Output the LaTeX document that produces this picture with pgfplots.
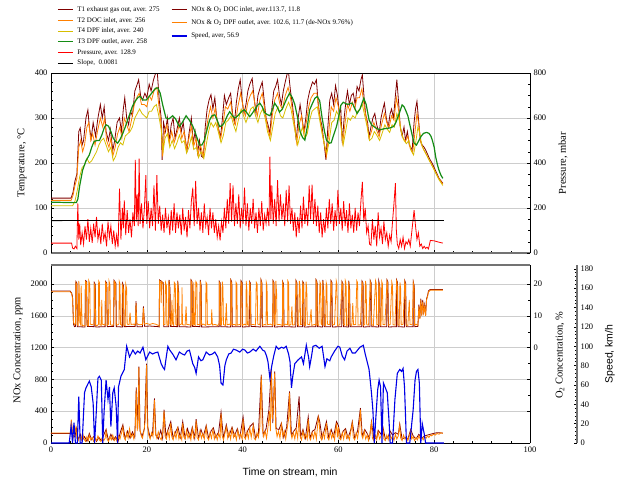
\documentclass[border=0pt]{standalone}
\usepackage{pgfplots}
\pgfplotsset{compat=1.18}
\usepackage{fontspec}
\setmainfont{Liberation Serif}
\newfontfamily\arialfont{Liberation Sans}
\definecolor{tone}{RGB}{128,0,0}
\definecolor{ttwo}{RGB}{255,128,0}
\definecolor{tfour}{RGB}{215,190,0}
\definecolor{tthree}{RGB}{20,140,20}
\definecolor{pres}{RGB}{255,0,0}
\definecolor{spd}{RGB}{0,0,230}
\definecolor{gridc}{RGB}{205,205,205}
\definecolor{axgray}{RGB}{115,115,115}
\pgfplotsset{
  base/.style={scale only axis, width=479bp, xmin=0, xmax=100,
    tick align=inside, /pgf/number format/assume math mode=true,
    /pgf/number format/1000 sep={},
    tick label style={font=\fontsize{8.5}{9}\selectfont},
    label style={font=\fontsize{10.5}{12}\selectfont},
    major tick length=3.5bp, minor tick length=2bp,
    every tick/.style={black, line width=0.5bp},
    legend image code/.code={\draw[##1] (0bp,0bp) -- (15bp,0bp);},
  },
}
\begin{document}
\begin{tikzpicture}
\useasboundingbox (0,0) rectangle (633bp,-482bp);
% ---------------- TOP: temperature ----------------
\begin{axis}[base, at={(51bp,-253bp)}, anchor=south west, height=180bp,
  ymin=0, ymax=400, ytick={0,100,...,400}, minor y tick num=4,
  xtick={0,20,...,100}, minor x tick num=4, xticklabels={},
  axis x line*=bottom, axis y line*=left,
  x axis line style={axgray, line width=1.6bp},
  y axis line style={black, line width=0.8bp},
  grid=major, major grid style={gridc, line width=0.4bp},
  ylabel={Temperature, °C},
  ylabel style={at={(axis description cs:-0.0605,0.5)}, anchor=center},
]
\addplot[tone, line width=0.8bp] coordinates {(0,122) (4.2,122) (4.6,135) (5.0,160) (5.4,175) (5.8,270) (6.1,278) (6.5,240) (6.8,250) (7.3,300) (7.7,318) (8.0,280) (8.4,255) (8.8,290) (9.3,260) (9.8,300) (10.3,330) (10.7,300) (11.1,325) (11.5,270) (12.0,250) (12.4,275) (12.9,228) (13.3,250) (13.8,290) (14.3,300) (14.7,270) (15.1,320) (15.4,345) (15.8,300) (16.2,285) (16.6,315) (17.0,305) (17.5,360) (17.9,372) (18.3,385) (18.7,350) (19.1,340) (19.6,355) (20.0,345) (20.5,375) (20.9,360) (21.4,385) (21.8,398) (22.2,400) (22.6,340) (23.0,300) (23.2,207) (23.5,290) (23.9,270) (24.3,300) (24.7,250) (25.1,285) (25.5,300) (25.9,255) (26.3,275) (26.8,300) (27.2,270) (27.6,290) (28.0,255) (28.4,229) (28.8,265) (29.3,300) (29.7,245) (30.1,270) (30.6,222) (31.0,250) (31.4,215) (31.8,212) (32.2,280) (32.6,320) (33.0,340) (33.4,352) (33.8,320) (34.2,345) (34.6,300) (35.0,275) (35.4,258) (35.8,300) (36.2,350) (36.6,330) (37.1,345) (37.5,355) (37.9,310) (38.3,290) (38.7,335) (39.1,365) (39.5,385) (39.9,340) (40.3,310) (40.7,330) (41.1,360) (41.5,375) (42.0,388) (42.4,345) (42.8,310) (43.2,350) (43.6,365) (44.1,380) (44.5,340) (44.9,300) (45.3,285) (45.7,266) (46.1,320) (46.5,360) (46.9,370) (47.3,385) (47.7,350) (48.1,330) (48.5,360) (48.9,380) (49.3,398) (49.6,400) (50.0,360) (50.4,330) (50.8,290) (51.2,250) (51.6,300) (52.0,330) (52.4,300) (52.8,270) (53.2,300) (53.6,340) (54.0,360) (54.6,380) (55.0,375) (55.4,385) (55.8,330) (56.2,300) (56.6,280) (57.0,245) (57.4,207) (57.8,280) (58.2,340) (58.6,355) (59.0,330) (59.4,372) (59.8,350) (60.2,310) (60.5,320) (60.8,244) (61.2,300) (61.6,340) (61.9,360) (62.3,330) (62.7,350) (63.1,355) (63.5,330) (63.9,370) (64.3,360) (64.7,385) (65.0,396) (65.4,340) (65.7,307) (66.1,290) (66.4,259) (66.8,280) (67.2,300) (67.6,310) (68.0,285) (68.5,266) (68.9,300) (69.3,320) (69.6,333) (70.0,300) (70.4,280) (70.8,310) (71.1,320) (71.5,300) (71.9,350) (72.2,385) (72.6,330) (72.9,281) (73.3,260) (73.7,280) (74.0,250) (74.4,270) (74.8,240) (75.4,229) (75.8,290) (76.1,320) (76.4,337) (76.7,300) (77.1,250) (77.5,240) (77.9,235) (78.2,229) (78.6,220) (79.0,210) (79.6,199) (80.2,185) (81.0,166) (81.8,155)};
\addplot[ttwo, line width=0.8bp] coordinates {(0,117) (4.2,117) (4.6,128) (5.0,150) (5.4,165) (5.8,235) (6.2,250) (6.6,225) (7.0,240) (7.5,280) (7.9,290) (8.3,250) (8.7,265) (9.2,240) (9.7,270) (10.3,300) (10.8,280) (11.2,300) (11.6,250) (12.1,235) (12.5,255) (12.9,215) (13.4,235) (13.9,265) (14.4,280) (14.8,255) (15.3,300) (15.8,285) (16.3,270) (16.8,295) (17.4,330) (17.9,345) (18.4,355) (18.9,330) (19.5,330) (20.0,325) (20.5,350) (21.0,340) (21.5,360) (22.1,368) (22.6,320) (23.0,285) (23.3,215) (23.7,270) (24.2,285) (24.7,245) (25.2,270) (25.7,245) (26.2,262) (26.8,285) (27.3,255) (27.8,270) (28.3,230) (28.8,255) (29.3,282) (29.8,238) (30.3,255) (30.7,218) (31.2,240) (31.8,215) (32.3,265) (32.8,300) (33.3,325) (33.8,300) (34.3,322) (34.8,285) (35.4,252) (35.9,285) (36.4,325) (36.9,320) (37.5,335) (38.0,300) (38.5,285) (39.0,325) (39.6,355) (40.1,325) (40.6,305) (41.1,335) (41.6,350) (42.1,360) (42.6,330) (43.1,305) (43.6,340) (44.1,355) (44.6,320) (45.1,285) (45.7,258) (46.2,305) (46.7,340) (47.3,355) (47.8,330) (48.3,320) (48.9,350) (49.5,368) (50.0,345) (50.5,310) (51.0,275) (51.3,245) (51.8,285) (52.3,305) (52.8,265) (53.3,290) (53.8,325) (54.3,345) (54.9,355) (55.5,355) (56.0,310) (56.5,275) (57.0,245) (57.5,215) (58.0,270) (58.5,325) (59.0,315) (59.5,345) (60.0,325) (60.4,300) (60.9,245) (61.4,290) (61.9,330) (62.4,315) (62.9,335) (63.4,320) (63.9,345) (64.4,345) (64.9,365) (65.4,325) (65.9,295) (66.4,255) (66.9,270) (67.4,290) (67.9,275) (68.5,258) (69.0,285) (69.6,310) (70.1,290) (70.6,280) (71.1,305) (71.6,295) (72.1,345) (72.6,315) (73.0,275) (73.5,255) (74.0,248) (74.5,260) (75.0,232) (75.5,222) (76.0,270) (76.4,310) (76.8,285) (77.2,245) (77.7,232) (78.2,222) (78.7,212) (79.3,200) (80.0,185) (80.8,168) (81.8,153)};
\addplot[tfour, line width=0.8bp] coordinates {(0,105) (4.5,105) (5.0,115) (5.5,140) (6.0,170) (6.5,190) (7.0,195) (7.5,210) (8.0,200) (8.5,205) (9.0,215) (9.5,225) (10.0,240) (10.5,250) (11.0,255) (11.5,240) (12.0,225) (12.5,235) (13.0,205) (13.5,215) (14.0,235) (14.5,245) (15.0,240) (15.5,260) (16.0,265) (16.5,270) (17.0,280) (17.5,300) (18.0,310) (18.5,320) (19.0,310) (19.5,305) (20.0,300) (20.5,315) (21.0,315) (21.5,325) (22.0,330) (22.5,305) (23.0,275) (23.4,225) (23.8,255) (24.3,265) (24.8,235) (25.3,250) (25.8,232) (26.3,245) (26.8,262) (27.3,245) (27.8,250) (28.3,222) (28.8,235) (29.3,258) (29.8,230) (30.4,235) (30.8,212) (31.3,225) (31.9,210) (32.4,240) (32.9,270) (33.4,290) (33.9,280) (34.4,290) (34.9,270) (35.5,245) (36.0,262) (36.5,290) (37.0,295) (37.6,305) (38.1,285) (38.6,270) (39.1,295) (39.7,320) (40.2,305) (40.7,290) (41.2,305) (41.7,320) (42.2,325) (42.7,305) (43.2,290) (43.7,310) (44.2,320) (44.7,300) (45.2,270) (45.8,250) (46.3,280) (46.8,310) (47.4,325) (47.9,305) (48.4,300) (49.0,320) (49.6,335) (50.1,320) (50.6,290) (51.1,262) (51.5,240) (52.0,262) (52.5,280) (53.0,255) (53.5,265) (54.0,295) (54.5,315) (55.0,320) (55.6,325) (56.1,295) (56.6,265) (57.1,240) (57.6,222) (58.1,250) (58.6,290) (59.1,295) (59.6,315) (60.1,305) (60.5,285) (61.0,240) (61.5,270) (62.0,300) (62.5,295) (63.0,305) (63.5,300) (64.0,315) (64.5,320) (65.0,330) (65.5,305) (66.0,280) (66.5,250) (67.0,255) (67.5,270) (68.0,262) (68.6,250) (69.1,265) (69.7,285) (70.2,275) (70.7,268) (71.2,285) (71.7,280) (72.2,310) (72.7,295) (73.2,265) (73.7,250) (74.2,243) (74.7,250) (75.2,228) (75.7,218) (76.2,250) (76.6,280) (77.0,265) (77.4,240) (77.9,228) (78.4,218) (79.0,205) (79.6,193) (80.3,178) (81.0,163) (81.8,150)};
\addplot[tthree, line width=1.2bp] coordinates {(0,113) (4.5,112) (5.3,112) (5.6,120) (6.0,150) (6.6,184) (7.3,205) (8.0,218) (8.5,235) (9.0,248) (9.6,250) (10.1,250) (10.6,262) (11.1,278) (11.5,285) (12.0,282) (12.5,270) (13.0,255) (13.5,248) (13.9,244) (14.4,252) (15.0,266) (15.5,280) (16.0,296) (16.5,310) (17.0,326) (17.6,338) (18.2,346) (18.6,348) (19.2,340) (19.9,340) (20.5,348) (21.3,359) (21.8,366) (22.3,367) (22.8,355) (23.3,330) (24.0,300) (24.6,298) (25.4,305) (26.0,298) (26.8,281) (27.4,290) (28.2,305) (28.9,295) (29.6,282) (30.3,262) (31.0,240) (31.5,240) (32.0,250) (32.6,275) (33.1,295) (33.6,305) (34.2,307) (34.7,295) (35.2,281) (35.7,283) (36.2,290) (36.8,305) (37.3,314) (37.9,305) (38.4,300) (39.0,305) (39.4,310) (40.0,316) (40.4,318) (41.0,310) (41.5,303) (42.0,310) (42.5,318) (43.1,328) (43.6,333) (44.1,325) (44.6,312) (45.1,308) (45.7,305) (46.2,318) (46.7,333) (47.2,325) (47.7,313) (48.3,320) (48.8,333) (49.3,345) (49.8,355) (50.4,345) (50.9,330) (51.5,300) (52.0,270) (52.5,257) (53.0,251) (53.5,280) (54.0,318) (54.6,333) (55.1,344) (55.6,348) (56.1,338) (56.6,300) (57.1,270) (57.5,251) (58.1,244) (58.5,245) (59.0,262) (59.6,281) (60.0,300) (60.5,328) (61.0,335) (61.9,330) (62.4,332) (62.9,333) (63.4,322) (63.9,310) (64.5,320) (65.0,335) (65.3,344) (65.8,330) (66.4,296) (66.9,285) (67.4,281) (68.1,276) (68.8,274) (69.5,276) (70.2,277) (70.8,278) (71.5,281) (72.0,290) (72.6,307) (73.3,329) (73.7,325) (74.0,318) (74.5,305) (75.0,281) (75.4,262) (75.8,244) (76.3,240) (76.8,250) (77.3,260) (77.8,266) (78.4,268) (78.9,266) (79.3,260) (79.6,251) (80.0,235) (80.3,214) (80.7,195) (81.0,184) (81.4,173) (81.8,166)};
\end{axis}
% ---------------- TOP: pressure ----------------
\begin{axis}[base, at={(51bp,-253bp)}, anchor=south west, height=180bp,
  ymin=0, ymax=800, ytick={0,200,...,800}, minor y tick num=3,
  axis x line*=top, axis y line*=right, xtick=\empty,
  axis line style={black, line width=0.8bp},
  ylabel={Pressure, mbar},
  ylabel style={at={(axis description cs:1.0689,0.5)}, anchor=center},
  legend style={at={(axis description cs:0.0125,1.3694)}, anchor=north west,
    draw=none, fill=none, inner sep=0pt, row sep=4.1bp, column sep=4bp,
    font=\fontsize{7}{8}\selectfont,
    nodes={inner sep=0pt, text height=5bp, text depth=1.5bp}},
  legend cell align=left,
]
\addlegendimage{tone, line width=1bp}\addlegendentry{T1 exhaust gas out, aver. 275}
\addlegendimage{ttwo, line width=1bp}\addlegendentry{T2 DOC inlet, aver. 256}
\addlegendimage{tfour, line width=1bp}\addlegendentry{T4 DPF inlet, aver. 240}
\addlegendimage{tthree, line width=1.3bp}\addlegendentry{T3 DPF outlet, aver. 258}
\addplot[pres, line width=0.8bp] coordinates {(0,44) (4.3,44) (4.5,22) (4.8,18) (5.1,30) (5.4,20) (5.6,220) (5.8,60) (6.0,130) (6.2,35) (6.5,90) (6.8,40) (7.1,120) (7.4,60) (7.7,150) (8.0,50) (8.3,110) (8.6,45) (8.9,130) (9.2,70) (9.5,160) (9.8,60) (10.1,100) (10.4,40) (10.7,130) (11.0,60) (11.3,90) (11.6,30) (11.9,140) (12.2,70) (12.5,120) (12.8,40) (13.1,100) (13.4,30) (13.7,80) (14.0,25) (14.3,286) (14.6,60) (14.9,200) (15.1,110) (15.3,234) (15.6,80) (15.9,190) (16.2,90) (16.5,150) (16.8,70) (17.1,180) (17.4,120) (17.6,414) (17.8,140) (18.0,260) (18.2,120) (18.4,420) (18.6,130) (18.9,220) (19.2,110) (19.5,200) (19.8,346) (20.0,130) (20.3,230) (20.6,110) (20.9,200) (21.2,120) (21.5,300) (21.8,100) (22.1,346) (22.4,130) (22.7,210) (23.0,100) (23.3,170) (23.6,90) (23.9,200) (24.2,110) (24.5,160) (24.8,80) (25.1,190) (25.4,100) (25.7,220) (26.0,90) (26.3,180) (26.6,110) (26.9,170) (27.2,80) (27.5,200) (27.8,100) (28.1,160) (28.4,70) (28.7,190) (29.0,110) (29.3,230) (29.6,290) (29.9,120) (30.2,320) (30.5,130) (30.8,200) (31.1,100) (31.4,180) (31.7,90) (32.0,220) (32.3,120) (32.6,160) (32.9,80) (33.2,200) (33.5,110) (33.8,180) (34.1,90) (34.4,150) (34.7,70) (35.0,120) (35.3,56) (35.6,140) (35.9,90) (36.2,200) (36.5,110) (36.8,240) (37.1,130) (37.4,310) (37.7,140) (38.0,300) (38.3,120) (38.6,220) (38.9,130) (39.2,260) (39.5,110) (39.8,200) (40.1,130) (40.4,290) (40.7,120) (41.0,220) (41.3,100) (41.6,200) (41.9,130) (42.2,240) (42.5,110) (42.8,180) (43.1,90) (43.4,200) (43.7,120) (44.0,230) (44.3,100) (44.6,170) (44.9,130) (45.2,200) (45.5,120) (45.7,428) (45.9,150) (46.1,300) (46.4,130) (46.7,240) (47.0,120) (47.3,324) (47.6,140) (47.9,260) (48.2,150) (48.5,220) (48.8,120) (49.1,280) (49.4,140) (49.7,300) (50.0,130) (50.3,200) (50.6,100) (50.9,180) (51.2,70) (51.5,160) (51.8,90) (52.1,210) (52.4,110) (52.7,250) (53.0,130) (53.3,200) (53.6,120) (53.9,300) (54.2,150) (54.5,304) (54.8,130) (55.1,240) (55.4,120) (55.7,210) (56.0,90) (56.3,180) (56.6,70) (56.9,150) (57.2,90) (57.5,200) (57.8,110) (58.1,240) (58.4,130) (58.7,220) (59.0,100) (59.3,190) (59.6,120) (59.9,280) (60.2,130) (60.5,200) (60.8,100) (61.1,230) (61.4,120) (61.7,190) (62.0,90) (62.3,220) (62.6,110) (62.9,170) (63.2,90) (63.5,200) (63.8,100) (64.1,180) (64.4,120) (64.7,230) (65.0,316) (65.3,140) (65.6,200) (65.9,90) (66.2,120) (66.5,40) (66.8,34) (67.1,150) (67.4,60) (67.7,120) (68.0,30) (68.3,180) (68.6,70) (68.9,110) (69.2,40) (69.5,140) (69.8,60) (70.1,90) (70.4,30) (70.7,80) (71.0,50) (71.3,140) (71.6,220) (71.9,310) (72.1,100) (72.3,40) (72.6,20) (72.9,60) (73.2,30) (73.5,70) (73.8,20) (74.1,50) (74.4,40) (74.7,60) (75.0,30) (75.4,110) (75.8,190) (76.1,120) (76.4,60) (76.7,90) (77.0,30) (77.3,40) (77.6,20) (77.9,30) (78.2,20) (78.5,26) (78.8,18) (79.2,56) (80.0,54) (81.0,48) (81.8,44)};
\addlegendentry{Pressure, aver. 128.9}
\addplot[black, line width=0.8bp] coordinates {(0,144) (82,144.7)};
\addlegendentry{Slope,\ \ 0.0081}
\end{axis}
% ---------------- BOTTOM: NOx ----------------
\begin{axis}[base, at={(51bp,-443bp)}, anchor=south west, height=178bp,
  ymin=0, ymax=2240, ytick={0,400,...,2000}, minor y tick num=3,
  xtick={0,20,...,100}, minor x tick num=4,
  axis x line*=bottom, axis y line*=left,
  axis line style={black, line width=0.8bp},
  grid=major, major grid style={gridc, line width=0.4bp},
  ylabel={NOx Concentration, ppm},
  ylabel style={at={(axis description cs:-0.0689,0.522)}, anchor=center},
  xlabel={\arialfont Time on stream, min},
  xlabel style={at={(axis description cs:0.499,-0.163)}, anchor=center},
]
\addplot[tone, line width=0.8bp] coordinates {(0,120) (4.1,120) (4.25,280) (4.5,100) (5.0,80) (5.3,180) (5.6,40) (6.1,110) (6.5,30) (7.0,80) (7.5,20) (8.0,120) (8.5,40) (9.0,90) (9.5,20) (10.0,70) (10.5,30) (11.0,100) (11.5,170) (12.0,30) (12.5,110) (13.0,40) (13.5,80) (14.0,20) (14.5,140) (15.0,230) (15.5,50) (16.0,150) (16.5,60) (17.0,140) (17.5,70) (17.8,700) (18.1,180) (18.35,960) (18.6,150) (19.0,80) (19.5,180) (19.95,1000) (20.2,200) (20.7,70) (21.2,120) (21.6,560) (21.9,100) (22.4,50) (22.9,160) (23.3,60) (23.6,420) (24.0,80) (24.5,180) (25.0,270) (25.5,60) (26.0,140) (26.5,200) (27.0,70) (27.5,270) (28.0,60) (28.5,180) (29.0,70) (29.5,200) (30.0,60) (30.3,300) (30.8,60) (31.3,170) (31.8,80) (32.4,220) (32.9,60) (33.4,150) (33.9,190) (34.4,70) (35.0,140) (35.5,390) (36.0,60) (36.6,230) (37.1,80) (37.8,200) (38.3,90) (38.9,180) (39.4,60) (40.1,330) (40.6,70) (41.1,160) (41.6,210) (42.2,250) (42.7,60) (43.3,120) (43.9,860) (44.3,100) (44.9,180) (45.5,420) (46.0,940) (46.3,250) (46.7,900) (47.0,180) (47.6,170) (48.1,250) (48.6,70) (49.2,200) (49.8,650) (50.2,100) (50.7,150) (51.2,190) (51.8,585) (52.1,80) (52.6,170) (53.1,60) (53.7,330) (54.1,60) (54.6,150) (55.1,170) (55.8,340) (56.1,270) (56.6,60) (57.0,150) (57.5,270) (58.0,60) (58.5,170) (59.0,80) (59.6,270) (60.0,220) (60.5,60) (61.0,150) (61.5,180) (62.0,60) (62.6,170) (62.9,270) (63.4,60) (64.0,150) (64.6,440) (65.0,80) (65.5,170) (66.0,120) (66.5,60) (66.9,270) (67.4,50) (68.0,70) (68.3,160) (68.9,110) (69.3,200) (69.8,50) (70.4,80) (70.8,150) (71.3,100) (71.9,130) (72.5,110) (72.8,240) (73.3,50) (73.9,70) (74.5,50) (75.1,170) (75.6,90) (76.2,50) (76.8,110) (77.4,60) (78.0,90) (78.6,100) (79.2,110) (79.8,120) (80.6,130) (81.8,125)};
\addplot[ttwo, line width=0.8bp] coordinates {(0,125) (4.1,125) (4.25,293) (4.4,150) (4.6,60) (4.9,120) (5.2,200) (5.4,60) (5.7,30) (6.0,90) (6.3,40) (6.6,130) (6.9,50) (7.2,20) (7.5,80) (7.8,30) (8.0,100) (8.3,40) (8.6,70) (8.9,20) (9.2,60) (9.5,30) (9.8,90) (10.1,40) (10.4,20) (10.7,70) (11.0,30) (11.3,60) (11.5,150) (11.7,50) (12.0,20) (12.3,80) (12.6,40) (12.9,100) (13.2,30) (13.5,60) (13.8,20) (14.1,90) (14.4,50) (14.7,120) (15.0,200) (15.2,80) (15.5,40) (15.8,130) (16.1,60) (16.4,180) (16.7,70) (17.0,110) (17.3,50) (17.6,200) (17.8,670) (18.0,150) (18.2,300) (18.35,950) (18.5,200) (18.8,100) (19.1,60) (19.4,150) (19.7,300) (19.95,980) (20.1,250) (20.4,100) (20.7,50) (21.0,130) (21.3,80) (21.6,540) (21.8,120) (22.1,60) (22.4,140) (22.7,70) (23.0,40) (23.3,120) (23.6,400) (23.8,90) (24.1,50) (24.4,150) (24.7,60) (25.0,250) (25.2,80) (25.5,40) (25.8,130) (26.1,60) (26.4,180) (26.7,50) (27.0,100) (27.3,40) (27.5,250) (27.7,80) (28.0,50) (28.3,160) (28.6,60) (28.9,120) (29.2,40) (29.5,180) (29.8,60) (30.1,100) (30.3,280) (30.5,70) (30.8,40) (31.1,150) (31.4,60) (31.7,120) (32.0,50) (32.4,200) (32.6,70) (32.9,40) (33.2,130) (33.5,60) (33.8,170) (34.1,50) (34.4,110) (34.7,40) (35.0,120) (35.3,60) (35.5,370) (35.7,100) (36.0,40) (36.3,120) (36.6,200) (36.9,60) (37.2,140) (37.5,50) (37.8,180) (38.1,70) (38.4,120) (38.7,40) (39.0,160) (39.3,70) (39.6,110) (39.9,50) (40.1,300) (40.3,80) (40.6,50) (40.9,140) (41.2,60) (41.5,190) (41.8,70) (42.2,220) (42.4,60) (42.7,40) (43.0,130) (43.3,70) (43.6,200) (43.9,840) (44.1,180) (44.4,80) (44.7,150) (45.0,60) (45.3,200) (45.6,400) (45.8,150) (46.0,920) (46.2,300) (46.45,500) (46.7,880) (46.9,200) (47.2,80) (47.5,150) (47.8,60) (48.1,230) (48.4,80) (48.7,150) (49.0,50) (49.3,180) (49.6,300) (49.8,630) (50.0,150) (50.3,60) (50.6,130) (50.9,50) (51.2,170) (51.5,60) (51.8,350) (52.0,90) (52.3,40) (52.6,150) (52.9,60) (53.2,110) (53.5,50) (53.7,300) (53.9,80) (54.2,40) (54.5,130) (54.8,60) (55.1,150) (55.4,50) (55.8,320) (56.0,250) (56.2,80) (56.5,40) (56.8,130) (57.1,60) (57.5,250) (57.7,70) (58.0,40) (58.3,150) (58.6,60) (58.9,120) (59.2,40) (59.6,250) (59.8,70) (60.0,200) (60.2,60) (60.5,40) (60.8,130) (61.1,50) (61.4,160) (61.7,60) (62.0,100) (62.3,40) (62.6,150) (62.9,250) (63.1,70) (63.4,40) (63.7,130) (64.0,60) (64.3,180) (64.6,420) (64.8,120) (65.1,60) (65.4,150) (65.7,50) (66.0,100) (66.3,30) (66.6,120) (66.9,250) (67.1,60) (67.4,30) (67.7,100) (68.0,40) (68.3,140) (68.6,50) (68.9,90) (69.3,180) (69.5,50) (69.8,30) (70.1,100) (70.4,40) (70.7,130) (71.0,50) (71.3,90) (71.6,30) (71.9,110) (72.2,50) (72.5,90) (72.8,220) (73.0,60) (73.3,30) (73.6,100) (73.9,50) (74.2,80) (74.5,30) (74.8,90) (75.1,150) (75.3,50) (75.6,80) (75.9,30) (76.2,70) (76.5,40) (76.8,90) (77.1,50) (77.4,70) (77.7,40) (78.0,80) (78.3,60) (78.6,90) (78.9,70) (79.2,100) (79.5,90) (79.8,110) (80.2,100) (80.6,120) (81.0,110) (81.4,130) (81.8,120)};
\end{axis}
% ---------------- BOTTOM: O2 ----------------
\begin{axis}[base, at={(51bp,-443bp)}, anchor=south west, height=178bp,
  ymin=-30, ymax=26, ytick={-20,-10,...,20}, yticklabels={,,0,10,20}, minor y tick num=1,
  axis x line*=top, axis y line*=right, xtick=\empty,
  x axis line style={axgray, line width=1.6bp},
  y axis line style={black, line width=0.8bp},
  ylabel={O\textsubscript{2} Concentration, \%},
  ylabel style={at={(axis description cs:1.0626,0.494)}, anchor=center},
]
\addplot[tone, line width=0.8bp] coordinates {(0,17.8) (4.0,17.8) (4.3,17.2) (4.5,16) (4.7,7.4) (4.9,6.6) (5.1,6.7) (5.2,20.8) (5.4,20.3) (5.5,6.6) (7.1,6.5) (7.2,21.1) (7.45,20.8) (7.55,6.7) (9.0,6.6) (9.05,20.4) (9.25,19.8) (9.35,6.5) (11.3,6.6) (11.4,20.8) (11.65,20.3) (11.75,6.6) (13.1,6.7) (13.15,21.2) (13.55,20.3) (13.65,6.6) (14.9,6.5) (14.95,20.2) (15.15,19.4) (15.25,6.6) (17.6,6.7) (17.75,14.6) (17.95,6.6) (19.1,6.6) (19.3,13) (19.55,6.7) (20.6,6.8) (22.4,6.6) (22.6,6.5) (22.65,21.3) (23.45,20.4) (23.55,6.6) (24.6,6.6) (24.65,21.3) (24.85,18.5) (24.95,6.7) (26.4,6.6) (26.45,21.1) (26.65,17.5) (26.75,6.6) (29.2,6.5) (29.25,21.3) (29.45,20.8) (29.55,6.7) (31.1,6.6) (31.15,21.3) (31.35,19.5) (31.45,6.5) (35.1,6.6) (35.15,20.8) (35.35,20.3) (35.45,6.6) (37.5,6.5) (37.55,21.3) (37.75,20.6) (37.85,6.6) (39.6,6.6) (39.65,21.1) (39.9,20.5) (40.0,6.5) (41.4,6.6) (41.45,20.8) (41.65,20.3) (41.75,6.7) (43.8,6.5) (43.85,21.3) (44.05,20.3) (44.15,6.6) (46.3,6.6) (46.35,21.1) (46.55,20.5) (46.65,6.5) (48.3,6.6) (48.35,20.8) (48.55,20.1) (48.65,6.6) (51.1,6.5) (51.15,21.1) (51.35,20.3) (51.45,6.6) (52.5,6.6) (52.55,20.8) (52.75,20.3) (52.85,6.5) (55.3,6.6) (55.35,21.3) (55.55,20.6) (55.65,6.6) (56.7,6.5) (56.75,21.3) (56.95,17.5) (57.05,6.6) (58.4,6.6) (58.45,21.1) (58.65,20.5) (58.75,6.5) (60.7,6.6) (60.75,20.8) (60.95,20.1) (61.05,6.6) (62.1,6.5) (62.15,21.1) (62.35,18.4) (62.45,6.6) (64.9,6.6) (64.95,20.9) (65.15,20.3) (65.25,6.5) (66.6,6.6) (66.65,21.1) (66.85,20.3) (66.95,6.6) (68.4,6.5) (68.45,20.8) (68.65,19.3) (68.75,6.6) (70.1,6.6) (70.15,21.3) (70.35,20.6) (70.45,6.5) (72.1,6.6) (72.15,21.3) (72.35,20.5) (72.45,6.6) (73.8,6.5) (73.85,21.1) (74.05,20.3) (74.15,6.6) (75.6,6.6) (75.65,20.6) (75.85,19.3) (75.95,6.6) (76.6,6.7) (76.8,13.5) (77.0,9.3) (77.2,15.4) (77.4,10.2) (77.6,15) (77.8,11.3) (78.0,13.4) (78.2,10.2) (78.4,15.4) (78.6,16.3) (78.8,17.8) (79.0,18.1) (79.2,18.3) (81.8,18.3)};
\addplot[ttwo, line width=0.8bp] coordinates {(0,17.6) (4.0,17.6) (4.3,17.0) (4.5,15.5) (4.7,8) (4.9,7.2) (5.1,7.5) (5.2,20.5) (5.35,20) (5.45,7.3) (5.7,7.0) (5.8,21) (5.9,19) (6.0,8) (6.2,7.2) (6.3,19.5) (6.4,13) (6.5,7) (7.1,6.8) (7.2,20.8) (7.4,20.5) (7.5,7.1) (7.8,6.9) (7.9,21) (8.1,20) (8.2,7.4) (8.6,7.2) (9.0,7.5) (9.05,20) (9.2,19.5) (9.3,7) (9.6,6.9) (9.9,7.3) (9.95,21) (10.1,20.5) (10.2,7.2) (10.5,7.0) (10.6,15) (10.7,7.4) (11.3,7.1) (11.4,20.5) (11.6,20) (11.7,7.0) (12.0,7.3) (12.1,21) (12.3,19.8) (12.4,7.2) (12.8,7.0) (13.1,7.4) (13.15,21) (13.25,15) (13.35,20.6) (13.5,20) (13.6,7.1) (14.0,7.2) (14.2,7.5) (14.25,20.8) (14.4,20) (14.5,7.3) (14.8,7.0) (14.9,19.8) (15.1,19) (15.2,7.1) (15.5,6.9) (15.6,20) (15.8,18.5) (15.9,7.4) (16.3,7.2) (16.5,11) (16.7,7.3) (17.2,7.4) (17.6,7.1) (17.75,14) (17.9,7.5) (18.5,7.2) (19.1,7.3) (19.3,12.5) (19.5,7.4) (20.0,7.6) (20.6,7.3) (21.2,7.6) (21.8,7.4) (22.4,7.0) (22.6,6.8) (22.65,21) (22.9,20.5) (23.0,14) (23.1,20.8) (23.4,20) (23.5,7.2) (23.8,7.3) (23.9,20.5) (24.1,19.5) (24.2,7.0) (24.5,7.2) (24.6,21) (24.8,18) (24.9,7.3) (25.1,7.0) (25.25,15) (25.4,7.4) (25.6,7.1) (25.75,20.5) (25.95,20) (26.05,7.3) (26.3,7.0) (26.45,20.8) (26.6,17) (26.7,7.2) (27.0,7.3) (27.3,7.5) (27.35,19) (27.45,7.2) (28.0,7.1) (28.2,13) (28.35,7.3) (28.9,7.2) (29.2,7.0) (29.25,21) (29.4,20.5) (29.5,7.3) (29.7,7.1) (29.8,20.5) (29.9,7.4) (30.1,7.0) (30.25,20.8) (30.45,20.2) (30.55,7.2) (30.9,7.3) (31.1,7.1) (31.15,21) (31.3,19) (31.4,7.2) (31.8,7.4) (32.3,7.0) (32.35,20.6) (32.55,20) (32.65,7.3) (33.0,7.2) (33.5,7.5) (33.55,12) (33.7,7.1) (34.2,7.3) (34.8,7.0) (35.1,7.4) (35.15,20.5) (35.3,20) (35.4,7.2) (35.6,7.1) (35.75,20.8) (35.9,19) (36.0,7.3) (36.4,7.0) (36.6,14) (36.75,7.2) (37.3,7.4) (37.5,7.1) (37.55,21) (37.7,20.3) (37.8,7.2) (38.3,7.3) (38.6,7.0) (38.65,20.5) (38.8,20) (38.9,7.1) (39.4,7.3) (39.6,7.2) (39.65,20.8) (39.85,20.2) (39.95,7.0) (40.4,7.4) (40.7,7.1) (40.75,21) (40.9,18) (41.0,7.3) (41.3,7.0) (41.45,20.5) (41.6,20) (41.7,7.2) (42.2,7.3) (42.7,7.1) (42.85,20.6) (43.05,20) (43.15,7.4) (43.6,7.2) (43.85,21) (44.0,20) (44.1,7.0) (44.6,7.3) (44.9,7.1) (44.95,20.5) (45.1,19.5) (45.2,7.2) (45.8,7.4) (46.3,7.0) (46.35,20.8) (46.5,20.2) (46.6,7.3) (46.8,7.1) (46.95,21) (47.1,17) (47.2,7.2) (47.7,7.3) (48.3,7.0) (48.35,20.5) (48.5,19.8) (48.6,7.1) (49.0,7.4) (49.4,7.2) (49.45,21) (49.6,20.5) (49.7,7.0) (50.1,7.3) (50.3,13) (50.45,7.1) (50.9,7.2) (51.15,20.8) (51.3,20) (51.4,7.3) (51.7,7.0) (51.85,21) (52.0,19) (52.1,7.2) (52.4,7.3) (52.55,20.5) (52.7,20) (52.8,7.1) (53.1,7.0) (53.25,20.8) (53.4,18.5) (53.5,7.4) (54.0,7.2) (54.3,12) (54.45,7.0) (55.0,7.3) (55.3,7.1) (55.35,21) (55.5,20.3) (55.6,7.2) (55.9,7.0) (56.15,20.6) (56.3,20) (56.4,7.3) (56.6,7.1) (56.75,21) (56.9,17) (57.0,7.2) (57.3,7.0) (57.45,20.5) (57.6,19.5) (57.7,7.4) (58.2,7.2) (58.45,20.8) (58.6,20.2) (58.7,7.1) (59.2,7.3) (59.55,21) (59.7,20) (59.8,7.0) (60.3,7.2) (60.75,20.5) (60.9,19.8) (61.0,7.3) (61.3,7.1) (61.45,21) (61.6,20.2) (61.7,7.0) (62.0,7.2) (62.15,20.8) (62.3,18) (62.4,7.3) (62.8,7.0) (63.0,14) (63.15,7.2) (63.6,7.3) (63.85,21) (64.0,20.5) (64.1,7.1) (64.6,7.2) (64.95,20.6) (65.1,20) (65.2,7.0) (65.5,7.3) (65.65,21) (65.8,19.5) (65.9,7.2) (66.3,7.1) (66.65,20.8) (66.8,20) (66.9,7.3) (67.3,7.0) (67.75,21) (67.9,20.2) (68.0,7.2) (68.3,7.3) (68.45,20.5) (68.6,19) (68.7,7.1) (68.9,7.0) (69.05,20.8) (69.2,20) (69.3,7.3) (69.7,7.2) (70.15,21) (70.3,20.3) (70.4,7.0) (70.8,7.3) (71.15,20.6) (71.3,19.5) (71.4,7.2) (71.8,7.1) (72.15,21) (72.3,20.2) (72.4,7.3) (72.7,7.0) (72.85,20.5) (73.0,18.5) (73.1,7.2) (73.5,7.3) (73.85,20.8) (74.0,20) (74.1,7.1) (74.5,7.0) (74.8,15) (74.95,7.3) (75.4,7.2) (75.65,20.3) (75.8,19) (75.9,7.1) (76.2,7.4) (76.6,7.0) (76.8,13) (77.0,9) (77.2,15) (77.4,10) (77.6,14.5) (77.8,11) (78.0,13) (78.2,10) (78.4,15) (78.6,16) (78.8,17.5) (79.0,17.8) (79.2,18.1) (81.8,18.1)};
\end{axis}
% ---------------- BOTTOM: speed ----------------
\begin{axis}[base, at={(51bp,-443bp)}, anchor=south west, height=178bp,
  ymin=0, ymax=184, ytick={0,20,...,180}, minor y tick num=4,
  hide x axis, axis y line*=right, axis y line shift=47bp,
  y axis line style={axgray, line width=1.6bp},
  ylabel={\arialfont Speed, km/h},
  ylabel style={at={(axis description cs:1.167,0.5)}, anchor=center},
  legend style={at={(axis description cs:0.2505,2.452)}, anchor=north west,
    draw=none, fill=none, inner sep=0pt, row sep=6.5bp, column sep=4bp,
    font=\fontsize{7}{8}\selectfont,
    nodes={inner sep=0pt, text height=5bp, text depth=1.5bp}},
  legend cell align=left,
]
\addlegendimage{tone, line width=1bp}\addlegendentry{NOx \& O\textsubscript{2} DOC inlet, aver.113.7, 11.8}
\addlegendimage{ttwo, line width=1bp}\addlegendentry{NOx \& O\textsubscript{2} DPF outlet, aver. 102.6, 11.7 (de-NOx 9.76\%)}
\addplot[spd, line width=1.1bp] coordinates {(0,0) (3.8,0) (4.2,17) (4.5,0) (4.8,21) (5.1,0) (5.5,0) (5.8,48) (6.1,0) (6.5,0) (7.0,52) (7.3,57) (8.0,64) (8.4,58) (8.8,41) (9.1,0) (9.4,27) (9.8,67) (10.1,69) (10.5,65) (10.8,0) (11.1,34) (11.5,65) (11.9,45) (12.2,58) (12.5,17) (12.9,52) (13.2,57) (13.6,38) (13.9,0) (14.1,58) (14.6,69) (15.3,76) (15.8,100) (16.4,89) (17.1,96) (17.6,92) (18.1,95) (18.6,93) (19.2,99) (19.8,86) (20.6,94) (21.2,92) (21.6,93) (22.3,94) (23.0,82) (23.4,78) (23.7,76) (24.1,90) (24.4,100) (24.8,96) (25.4,92) (26.1,86) (26.8,94) (27.4,92) (27.9,91) (28.4,95) (28.9,96) (29.6,82) (30.0,78) (30.3,72) (30.8,89) (31.3,85) (31.7,86) (32.4,94) (33.1,91) (33.7,92) (34.2,94) (34.8,89) (35.2,80) (35.5,62) (35.9,60) (36.3,80) (36.6,86) (37.1,92) (37.6,93) (38.1,97) (38.7,96) (39.4,94) (40.0,97) (40.5,96) (41.0,93) (41.5,94) (42.2,97) (42.8,95) (43.6,100) (44.2,96) (44.6,95) (45.0,90) (45.3,84) (45.7,67) (46.1,80) (46.5,90) (47.0,100) (47.5,97) (48.1,99) (48.6,98) (49.1,100) (49.6,92) (49.9,84) (50.2,57) (50.5,70) (50.9,82) (51.6,86) (52.3,89) (52.7,82) (53.3,101) (53.8,88) (54.0,79) (54.4,90) (54.7,100) (55.3,101) (56.0,98) (56.6,100) (57.2,79) (57.6,87) (58.2,85) (58.5,89) (59.2,95) (59.9,100) (60.3,99) (60.8,90) (61.3,86) (61.8,95) (62.4,98) (62.9,93) (63.5,93) (64.0,96) (64.5,99) (65.2,101) (65.6,92) (65.9,86) (66.4,76) (66.7,62) (66.9,52) (67.2,34) (67.5,0) (67.8,25) (68.2,55) (68.5,65) (68.8,58) (69.1,0) (69.4,62) (69.8,57) (70.2,52) (70.6,20) (70.8,0) (71.3,0) (71.8,45) (72.3,72) (72.8,76) (73.2,74) (73.5,77) (73.8,58) (74.0,30) (74.2,0) (74.9,0) (75.6,34) (76.0,65) (76.3,74) (76.6,76) (76.9,62) (77.2,0) (77.5,20) (77.9,10) (78.2,0) (82,0)};
\addlegendentry{Speed, aver, 56.9}
\end{axis}
\end{tikzpicture}
\end{document}
